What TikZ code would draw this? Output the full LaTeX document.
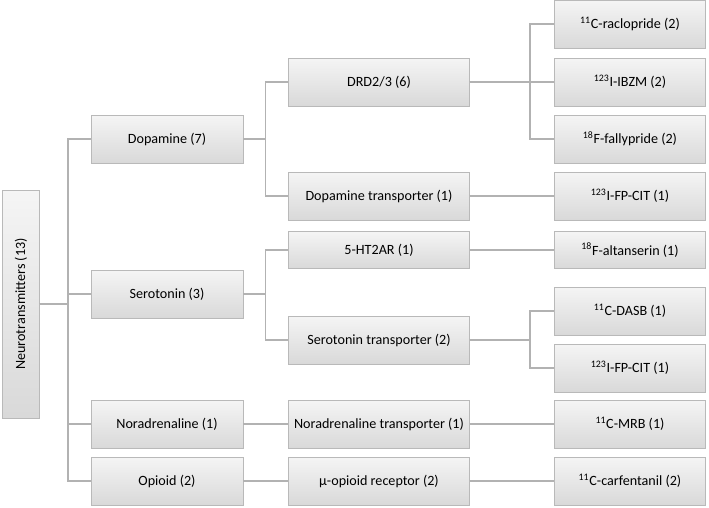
\documentclass[tikz,border=0pt]{standalone}
\usepackage{fontspec}
\setmainfont{Carlito}
\usetikzlibrary{positioning}
\tikzset{
  box/.style={draw=gray!55, top color=gray!8, bottom color=gray!30, inner sep=0pt,
    font=\fontsize{10.6}{12}\selectfont, minimum height=36pt},
  boxa/.style={box, minimum width=114pt},
  boxb/.style={box, minimum width=136pt},
  boxc/.style={box, minimum width=113pt},
  link/.style={draw=gray!60, line width=1pt}
}
\newcommand{\iso}[2]{\textsuperscript{#1}#2}
\begin{document}
\begin{tikzpicture}[x=0.75pt,y=-0.75pt]
\useasboundingbox (0,0) rectangle (709,507);
% root
\node[box, minimum width=171pt, minimum height=28pt, rotate=90] (nt) at (21,304) {Neurotransmitters (13)};
% first level
\node[boxa] (dop) at (167,139) {Dopamine (7)};
\node[boxa] (ser) at (167,294) {Serotonin (3)};
\node[boxa] (nor) at (167,424) {Noradrenaline (1)};
\node[boxa] (opi) at (167,481) {Opioid (2)};
% second level
\node[boxb] (drd) at (379,82) {DRD2/3 (6)};
\node[boxb] (dat) at (379,196) {Dopamine transporter (1)};
\node[boxb, minimum height=28pt] (ht) at (379,250) {5-HT2AR (1)};
\node[boxb] (sert) at (379,340) {Serotonin transporter (2)};
\node[boxb] (net) at (379,424) {Noradrenaline transporter (1)};
\node[boxb] (mor) at (379,481) {\textmu-opioid receptor (2)};
% tracers
\node[boxc] (rac) at (630,24) {\iso{11}{C-raclopride (2)}};
\node[boxc] (ibz) at (630,82) {\iso{123}{I-IBZM (2)}};
\node[boxc] (fal) at (630,139) {\iso{18}{F-fallypride (2)}};
\node[boxc] (fpa) at (630,196) {\iso{123}{I-FP-CIT (1)}};
\node[boxc, minimum height=28pt] (alt) at (630,250) {\iso{18}{F-altanserin (1)}};
\node[boxc] (das) at (630,311) {\iso{11}{C-DASB (1)}};
\node[boxc] (fpb) at (630,368) {\iso{123}{I-FP-CIT (1)}};
\node[boxc] (mrb) at (630,424) {\iso{11}{C-MRB (1)}};
\node[boxc] (car) at (630,481) {\iso{11}{C-carfentanil (2)}};
% links
\foreach \t in {dop,ser,nor,opi}
  \draw[link] (nt.south) -- ++(21pt,0) |- (\t.west);
\foreach \s/\t in {dop/drd,dop/dat,ser/ht,ser/sert}
  \draw[link] (\s.east) -- ++(16.5pt,0) |- (\t.west);
\draw[link] (nor) -- (net);
\draw[link] (opi) -- (mor);
\foreach \s/\t in {drd/rac,drd/ibz,drd/fal,sert/das,sert/fpb}
  \draw[link] (\s.east) -- ++(45pt,0) |- (\t.west);
\foreach \s/\t in {dat/fpa,ht/alt,net/mrb,mor/car}
  \draw[link] (\s) -- (\t);
\end{tikzpicture}
\end{document}
